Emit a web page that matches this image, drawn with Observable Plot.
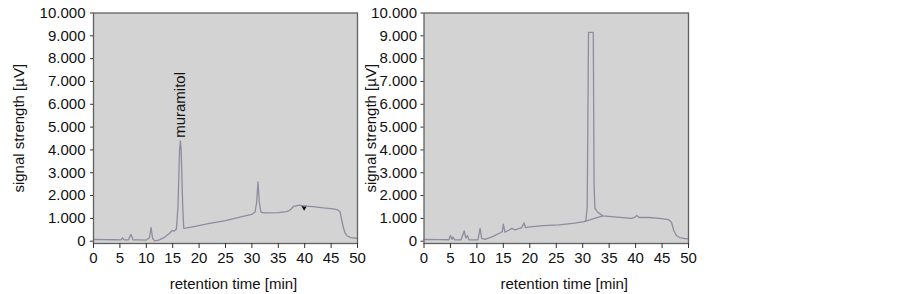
<!DOCTYPE html>
<html>
<head>
<meta charset="utf-8">
<script src="https://cdn.jsdelivr.net/npm/d3@7"></script>
<script src="https://cdn.jsdelivr.net/npm/@observablehq/plot@0.6"></script>
<style>
  html, body { margin: 0; padding: 0; background: #fff; }
  #wrap { position: relative; width: 903px; height: 294px; overflow: hidden; }
  #wrap svg { position: absolute; top: 0; overflow: visible; }
</style>
</head>
<body>
<div id="wrap"></div>
<script>
// ---- data ----
const xTicks = [0, 5, 10, 15, 20, 25, 30, 35, 40, 45, 50];
const yTicks = [0, 1000, 2000, 3000, 4000, 5000, 6000, 7000, 8000, 9000, 10000];
const xLabel = "retention time [min]";
const yLabel = "signal strength [\u00b5V]";

// left chromatogram
const leftTime   = [0, 2, 4, 5.2, 5.5, 5.8, 6.6, 7.1, 7.5, 8.5, 10.0, 10.6, 10.9, 11.2, 11.6, 12.5, 13.5, 14.3, 14.9, 15.2, 15.7, 16.0, 16.3, 16.45, 16.6, 16.9, 17.1, 19, 22, 25, 27.9, 30.0, 30.6, 30.9, 31.15, 31.4, 31.7, 32.3, 35, 36.6, 37.3, 37.9, 39.0, 40.0, 41.6, 43.5, 45.4, 46.3, 46.7, 47.2, 47.6, 48.0, 48.7, 49.8, 50];
const leftSignal = [75, 70, 65, 60, 150, 55, 60, 300, 60, 55, 50, 150, 600, 120, 10, 60, 180, 330, 470, 440, 530, 1500, 4000, 4400, 4000, 1500, 560, 640, 780, 900, 1070, 1180, 1280, 1700, 2600, 1700, 1280, 1240, 1250, 1300, 1380, 1530, 1580, 1540, 1520, 1460, 1420, 1370, 1280, 720, 380, 240, 160, 130, 110];

// right chromatogram
const rightTime   = [0, 3, 4.7, 5.0, 5.3, 5.5, 5.8, 7.0, 7.6, 7.9, 8.2, 8.5, 9.5, 10.2, 10.6, 10.9, 11.5, 13, 14.5, 14.8, 15.0, 15.3, 16.0, 16.6, 17.2, 18.5, 18.9, 19.2, 20, 22.5, 25.5, 28.5, 30.3, 30.6, 30.85, 31.1, 32.0, 32.15, 32.3, 32.8, 33.8, 36, 39.2, 39.8, 40.2, 40.7, 42.5, 44.5, 46.2, 46.8, 47.2, 47.7, 48.3, 49.2, 50];
const rightSignal = [75, 70, 65, 250, 80, 180, 60, 55, 450, 150, 250, 60, 55, 55, 560, 120, 80, 200, 380, 420, 750, 400, 480, 560, 500, 600, 800, 600, 630, 680, 720, 790, 860, 900, 1500, 9150, 9150, 2500, 1450, 1280, 1110, 1070, 1000, 1040, 1130, 1040, 1040, 1000, 950, 820, 480, 250, 160, 120, 100];

// integration baseline drawn under the big right-hand peak
const rightBaseTime   = [30.4, 33.8];
const rightBaseSignal = [870, 1110];

// annotations
const peakName = ["muramitol"];
const peakTime = [16.45];
const peakSignal = [4400];
const markerTime = [39.9];
const markerSignal = [1480];

// ---- drawing ----
const font = "'Liberation Sans', Arial, sans-serif";
const lineColor = "#8e8c9e";
const frameFill = "#d3d3d3";
const frameStroke = "#606161";
const fmt = d => d3.format(",")(d).replace(/,/g, ".");

function series(t, v) { return t.map((d, i) => ({t: d, v: v[i]})); }

function panel(opts) {
  const marks = [
    Plot.frame({fill: frameFill, stroke: null}),
    ...opts.extra,
    Plot.line(opts.data, {x: "t", y: "v", stroke: lineColor, strokeWidth: 1.3}),
    Plot.frame({stroke: frameStroke, strokeWidth: 1.3}),
    Plot.axisY({ticks: yTicks, tickFormat: fmt, tickSize: 3, tickPadding: opts.yPad, label: null, stroke: "#333"}),
    Plot.axisX({ticks: xTicks, tickFormat: d => String(d), tickSize: 5, tickPadding: 4, label: null, stroke: "#333"}),
    Plot.text([yLabel], {frameAnchor: "left", text: d => d, rotate: -90, textAnchor: "middle", lineAnchor: "bottom", dx: opts.yLabelDx, fill: "#111"}),
    Plot.text([xLabel], {frameAnchor: "bottom", text: d => d, textAnchor: "middle", lineAnchor: "bottom", dy: 45, dx: 8, fill: "#111"})
  ];
  const svg = Plot.plot({
    width: opts.width, height: 294,
    marginLeft: opts.marginLeft, marginRight: opts.marginRight,
    marginTop: 12.5, marginBottom: 51,
    x: {domain: [0, 50]},
    y: {domain: [-100, 10000]},
    style: {fontSize: "15px", fontFamily: font, color: "#111", background: "transparent", overflow: "visible"},
    marks
  });
  svg.style.left = opts.left + "px";
  document.getElementById("wrap").appendChild(svg);
}

panel({
  left: 0, width: 360, marginLeft: 93, marginRight: 3, yPad: 5, yLabelDx: -69.5,
  data: series(leftTime, leftSignal),
  extra: [
    Plot.text(peakName, {x: peakTime, y: peakSignal, text: d => d, rotate: -90, textAnchor: "start", lineAnchor: "middle", dy: -3, fill: "#111"}),
    Plot.dot(markerTime.map((d, i) => ({t: d, v: markerSignal[i]})), {x: "t", y: "v", symbol: "triangle", r: 2.2, rotate: 180, fill: "#111", stroke: null})
  ]
});

panel({
  left: 340, width: 360, marginLeft: 83.5, marginRight: 12, yPad: 4, yLabelDx: -48.5,
  data: series(rightTime, rightSignal),
  extra: [
    Plot.line(series(rightBaseTime, rightBaseSignal), {x: "t", y: "v", stroke: lineColor, strokeWidth: 1.1})
  ]
});
</script>
</body>
</html>
